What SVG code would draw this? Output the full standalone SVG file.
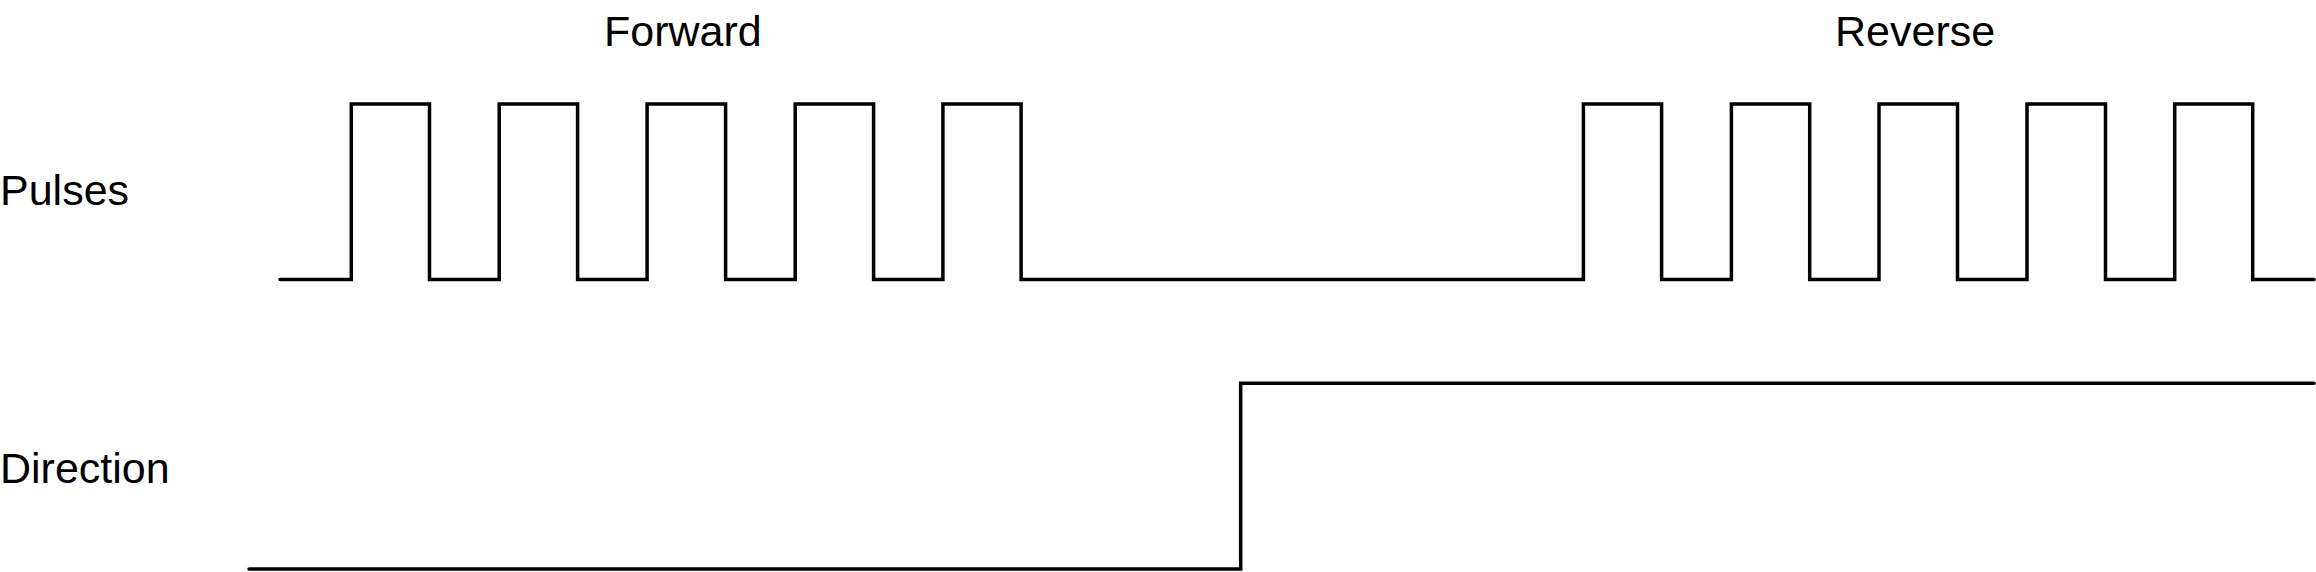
<svg xmlns="http://www.w3.org/2000/svg" width="2316" height="572" viewBox="0 0 2316 572">
<style>
.sig{fill:none;stroke:#000;stroke-width:3.5;stroke-linecap:round;stroke-linejoin:miter}
.lbl{font-family:"Liberation Sans",Arial,sans-serif;font-size:43px;fill:#000}
</style>
<rect width="2316" height="572" fill="#fff"/>
<g id="labels">
<text id="forward" class="lbl" x="604" y="46">Forward</text>
<text id="reverse" class="lbl" x="1835" y="46">Reverse</text>
<text id="pulses" class="lbl" x="0" y="205">Pulses</text>
<text id="direction" class="lbl" x="0" y="483">Direction</text>
</g>
<g id="signals">
<path id="pulses-wave" class="sig" d="M280,279.5 H351.3 V104 H429.5 V279.5 H499.2 V104 H577.6 V279.5 H647.1 V104 H725.6 V279.5 H795.2 V104 H873.6 V279.5 H942.9 V104 H1021.1 V279.5 H1583.4 V104 H1661.6 V279.5 H1731.4 V104 H1809.7 V279.5 H1879 V104 H1957.5 V279.5 H2027 V104 H2105.5 V279.5 H2174.7 V104 H2252.7 V279.5 H2314"/>
<path id="direction-wave" class="sig" d="M249,569 H1240.7 V383.3 H2314"/>
</g>
</svg>
